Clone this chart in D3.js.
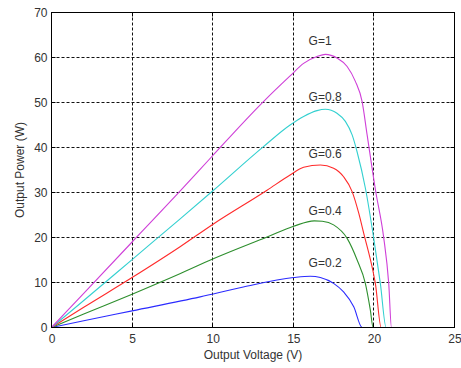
<!DOCTYPE html>
<html>
<head>
<meta charset="utf-8">
<script src="https://cdn.jsdelivr.net/npm/d3@7"></script>
<style>
  html, body { margin: 0; padding: 0; background: #fff; }
  svg { display: block; }
  text { font-family: "Liberation Sans", Arial, sans-serif; fill: #333; }
</style>
</head>
<body>
<svg id="chart" width="461" height="368"></svg>
<script>
// ---- data ----
const xTicks = [0, 5, 10, 15, 20, 25];
const yTicks = [0, 10, 20, 30, 40, 50, 60, 70];

const seriesNames = ["G=0.2", "G=0.4", "G=0.6", "G=0.8", "G=1"];
const seriesColors = ["#2b2bff", "#2e8f2e", "#ff2a2a", "#33d0d0", "#cf3fd8"];

const vBlue = [0, 2, 5, 9.22, 11.9, 15.02, 16.06, 16.68, 17.5, 18.12, 18.75, 19.27, 25];
const pBlue = [0, 1.5, 3.7, 6.8, 9.0, 11.1, 11.4, 11.1, 9.8, 7.9, 4.6, 0, 0];

const vGreen = [0, 2, 5, 8, 10, 13.37, 15.02, 16.3, 16.8, 17.5, 18.34, 18.96, 19.47, 19.78, 19.95, 25];
const pGreen = [0, 3, 7.4, 12, 15.2, 20.1, 22.5, 23.7, 23.6, 22.8, 19.8, 15.0, 9.8, 3.85, 0, 0];

const vRed = [0, 2, 5, 8, 10, 13.37, 14.8, 15.64, 16.68, 17.5, 18.12, 18.65, 19.06, 19.37, 19.95, 20.09, 20.45, 25];
const pRed = [0, 4.5, 11.1, 18, 22.9, 30.5, 33.9, 35.6, 36.1, 35.4, 33.5, 30.2, 25.4, 20.9, 12.4, 9.8, 0, 0];

const vCyan = [0, 2, 5, 8, 10.05, 13.15, 14.8, 15.64, 16.47, 16.99, 17.71, 18.23, 18.65, 18.96, 19.47, 19.99, 20.4, 20.76, 25];
const pCyan = [0, 6, 15.1, 24.2, 30.5, 40.2, 45.0, 46.9, 48.2, 48.5, 47.6, 45.8, 42.8, 39.0, 31.0, 19.8, 9.8, 0, 0];

const vMag = [0, 2, 5, 8, 9.95, 13.15, 14.8, 15.64, 16.47, 16.99, 17.71, 18.34, 18.85, 19.27, 19.58, 20.1, 20.6, 20.92, 21.09, 25];
const pMag = [0, 7.6, 19.0, 30.4, 38.0, 50.2, 55.9, 58.7, 60.2, 60.7, 59.9, 58.0, 54.7, 50.2, 42.8, 30.5, 20.2, 9.8, 0, 0];

const labelX = [15.95, 15.95, 15.95, 15.95, 15.95];
const labelY = [13.4, 25.1, 37.7, 50.4, 62.7];

// ---- drawing ----
const svg = d3.select("#chart");
const x = d3.scaleLinear().domain([0, 25]).range([51.5, 454.5]);
const y = d3.scaleLinear().domain([0, 70]).range([327.5, 12.5]);
const px = v => Math.round(x(v) - 0.5) + 0.5;
const py = v => Math.round(y(v) - 0.5) + 0.5;

const series = [
  [vBlue, pBlue], [vGreen, pGreen], [vRed, pRed], [vCyan, pCyan], [vMag, pMag]
].map(([vs, ps]) => vs.map((v, i) => [v, ps[i]]));

// grid
const grid = svg.append("g");
grid.selectAll(".gx").data(xTicks.slice(1, -1)).join("line")
  .attr("x1", px).attr("x2", px)
  .attr("y1", y(70)).attr("y2", y(0))
  .attr("stroke", "#111").attr("stroke-width", 1).attr("stroke-dasharray", "3,2");
grid.selectAll(".gy").data(yTicks.slice(1, -1)).join("line")
  .attr("y1", py).attr("y2", py)
  .attr("x1", x(0)).attr("x2", x(25))
  .attr("stroke", "#111").attr("stroke-width", 1).attr("stroke-dasharray", "3,2");

// inward ticks on all sides
const ticks = svg.append("g").attr("stroke", "#000").attr("stroke-width", 1);
xTicks.forEach(t => {
  ticks.append("line").attr("x1", px(t)).attr("x2", px(t)).attr("y1", y(0)).attr("y2", y(0) - 4);
  ticks.append("line").attr("x1", px(t)).attr("x2", px(t)).attr("y1", y(70)).attr("y2", y(70) + 4);
});
yTicks.forEach(t => {
  ticks.append("line").attr("y1", py(t)).attr("y2", py(t)).attr("x1", x(0)).attr("x2", x(0) + 4);
  ticks.append("line").attr("y1", py(t)).attr("y2", py(t)).attr("x1", x(25)).attr("x2", x(25) - 4);
});

// curves
const line = d3.line().x(d => x(d[0])).y(d => y(d[1])).curve(d3.curveMonotoneX);
svg.append("g").selectAll("path").data(series).join("path")
  .attr("d", line)
  .attr("fill", "none")
  .attr("stroke", (d, i) => seriesColors[i])
  .attr("stroke-width", 1.1);

// box
svg.append("rect")
  .attr("x", x(0)).attr("y", y(70))
  .attr("width", x(25) - x(0)).attr("height", y(0) - y(70))
  .attr("fill", "none").attr("stroke", "#000").attr("stroke-width", 1);

// axes labels
const xAxis = d3.axisBottom(x).tickValues(xTicks).tickSize(0).tickPadding(7);
const gx = svg.append("g").attr("transform", `translate(0,${y(0)})`).call(xAxis);
gx.select(".domain").remove();
gx.selectAll("text").style("font-size", "12px").attr("fill", "#333")
  .style("font-family", "'Liberation Sans', Arial, sans-serif");

const yAxis = d3.axisLeft(y).tickValues(yTicks).tickSize(0).tickPadding(4);
const gy = svg.append("g").attr("transform", `translate(${x(0)},0)`).call(yAxis);
gy.select(".domain").remove();
gy.selectAll("text").style("font-size", "12px").attr("fill", "#333")
  .style("font-family", "'Liberation Sans', Arial, sans-serif");

// series labels
svg.append("g").selectAll("text").data(seriesNames).join("text")
  .attr("x", (d, i) => x(labelX[i]))
  .attr("y", (d, i) => y(labelY[i]))
  .style("font-size", "12px")
  .text(d => d);

// titles
svg.append("text")
  .attr("x", (x(0) + x(25)) / 2).attr("y", 359)
  .attr("text-anchor", "middle").style("font-size", "12px")
  .text("Output Voltage (V)");
svg.append("text")
  .attr("transform", `translate(24,${(y(0) + y(70)) / 2}) rotate(-90)`)
  .attr("text-anchor", "middle").style("font-size", "12px")
  .text("Output Power (W)");
</script>
</body>
</html>
